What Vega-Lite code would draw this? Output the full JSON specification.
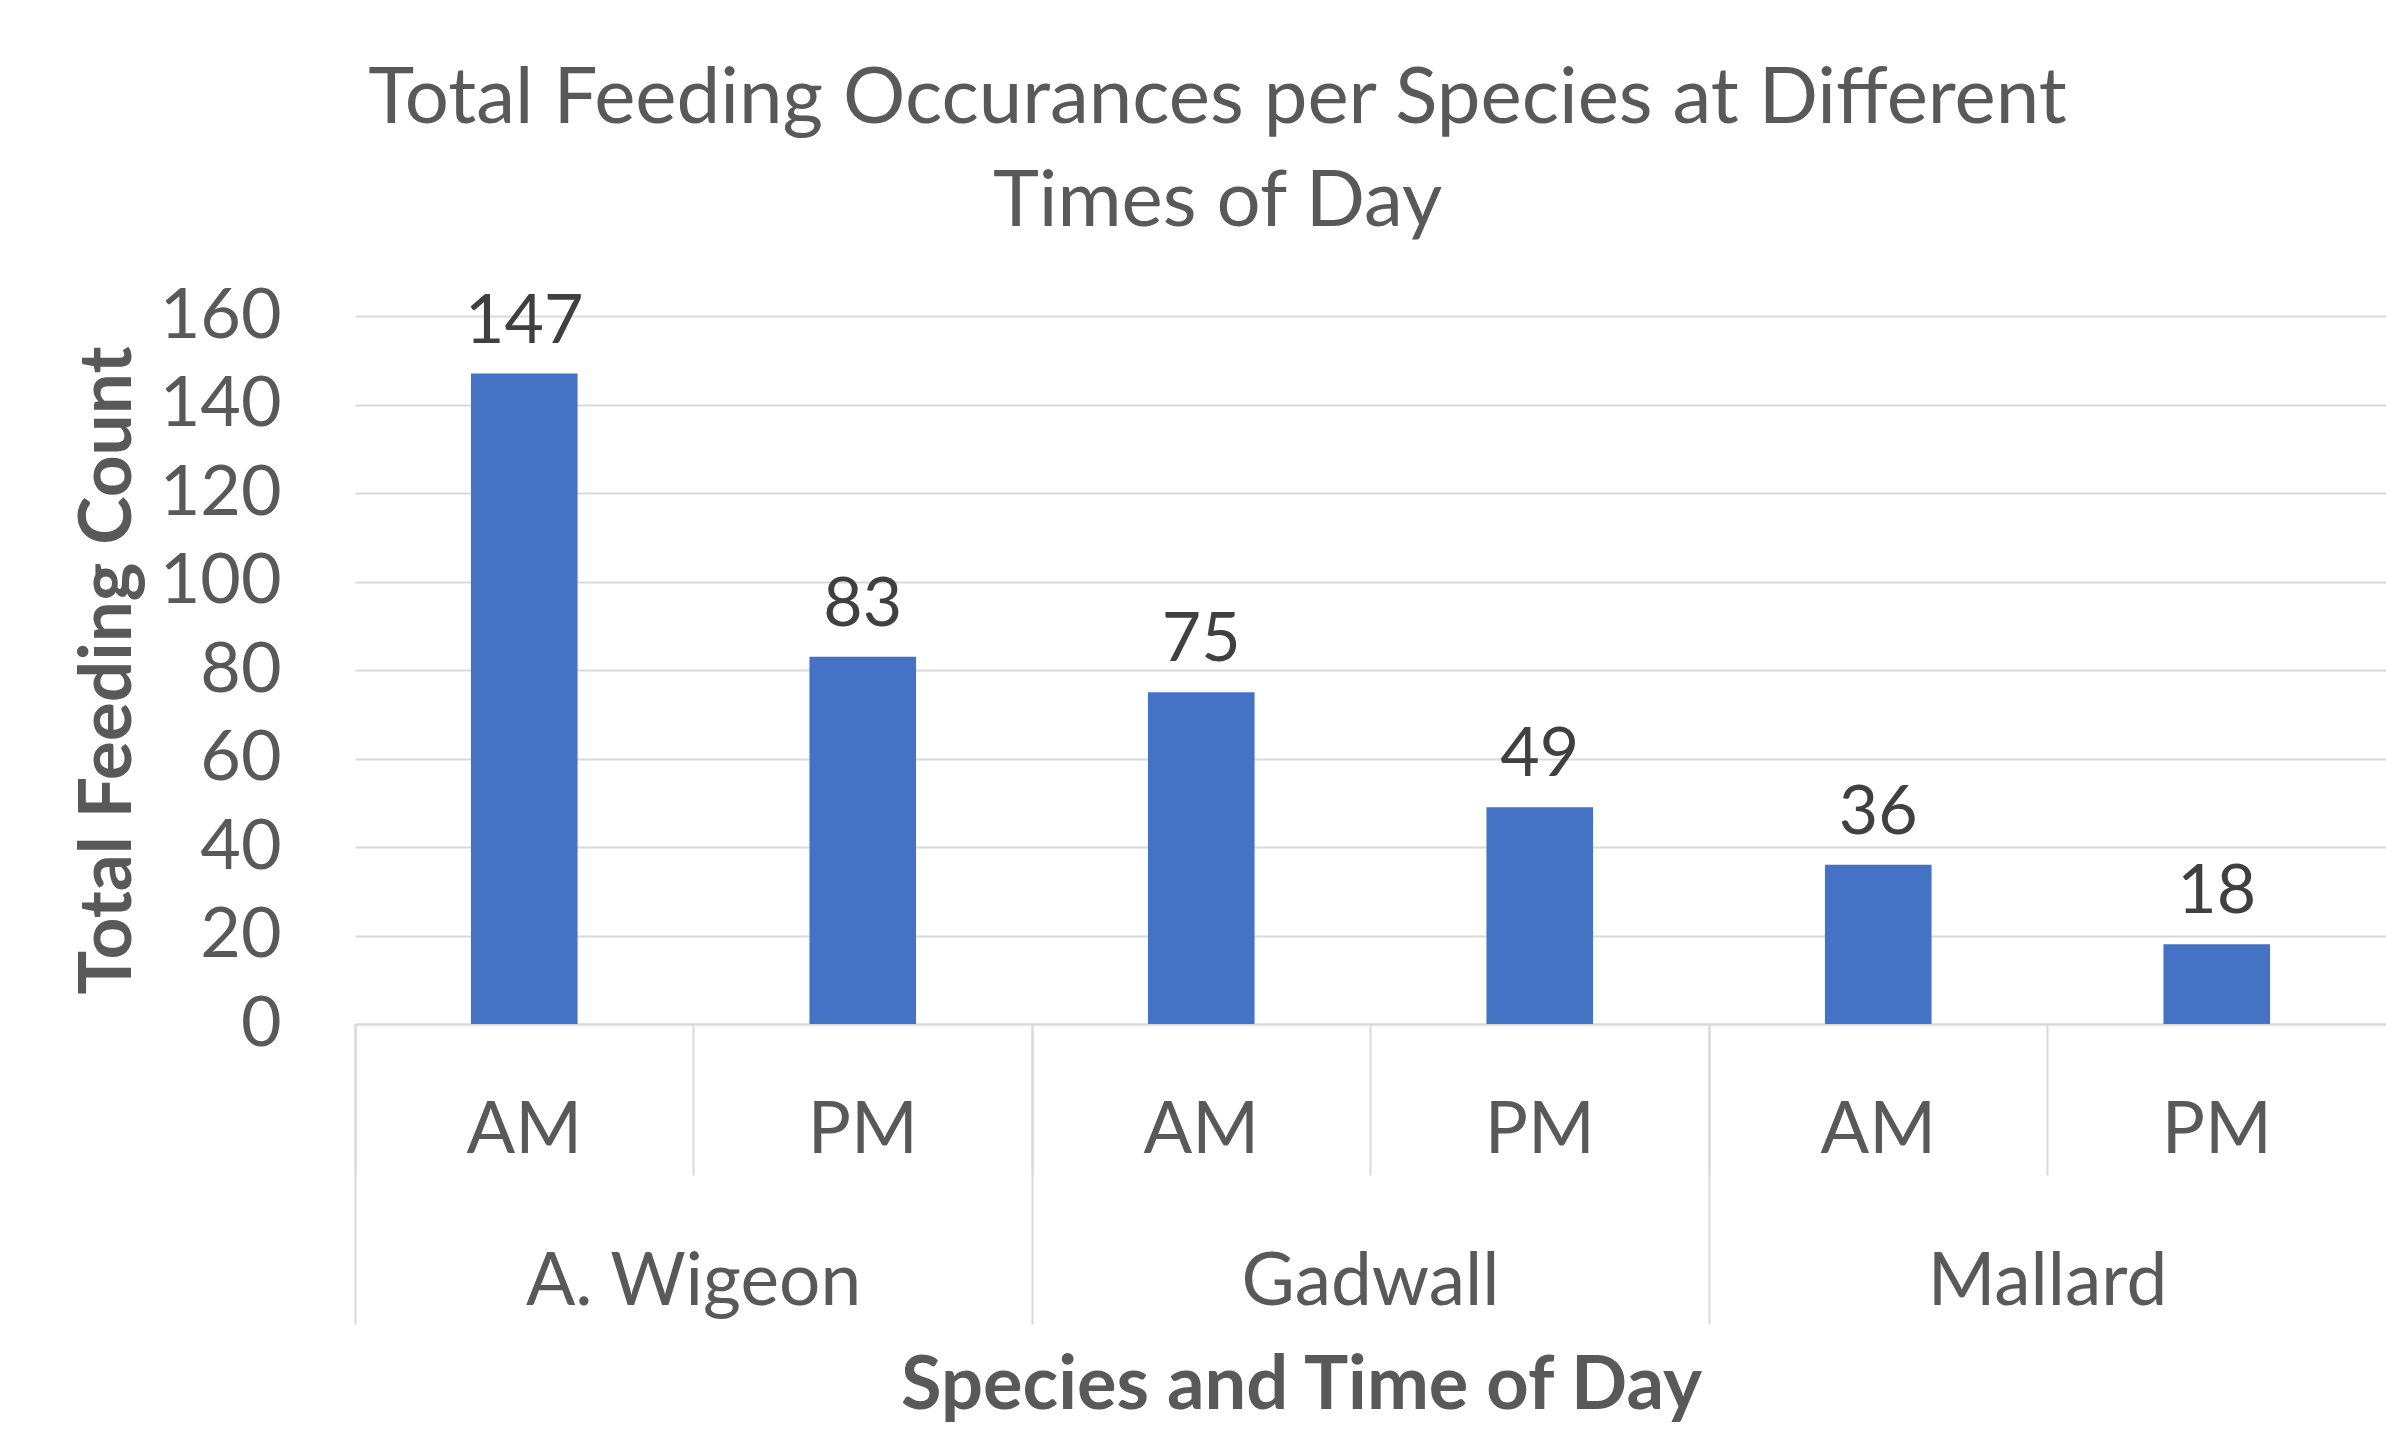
{
  "$schema": "https://vega.github.io/schema/vega-lite/v6.json",
  "autosize": {"type": "none"},
  "padding": {"left": 355, "top": 316, "right": 0, "bottom": 414},
  "width": 2031,
  "height": 708,
  "background": "white",
  "config": {
    "view": {"stroke": null},
    "font": "Lato",
    "title": {"font": "Lato", "fontSize": 78, "fontWeight": "normal", "color": "#595959", "anchor": "middle", "dx": -153, "lineHeight": 103, "offset": -236}
  },
  "title": {"text": ["Total Feeding Occurances per Species at Different", "Times of Day"]},
  "data": {
    "values": [
      {"species": "A. Wigeon", "time": "AM", "key": "A. Wigeon|AM", "count": 147},
      {"species": "A. Wigeon", "time": "PM", "key": "A. Wigeon|PM", "count": 83},
      {"species": "Gadwall", "time": "AM", "key": "Gadwall|AM", "count": 75},
      {"species": "Gadwall", "time": "PM", "key": "Gadwall|PM", "count": 49},
      {"species": "Mallard", "time": "AM", "key": "Mallard|AM", "count": 36},
      {"species": "Mallard", "time": "PM", "key": "Mallard|PM", "count": 18}
    ]
  },
  "encoding": {
    "y": {
      "field": "count", "type": "quantitative",
      "scale": {"domain": [0, 160], "nice": false},
      "axis": {
        "values": [0, 20, 40, 60, 80, 100, 120, 140, 160],
        "grid": true, "gridColor": "#d9d9d9", "gridWidth": 2,
        "domain": false, "ticks": false,
        "labelPadding": 74, "labelFontSize": 70, "labelColor": "#595959", "labelFont": "Lato",
        "title": "Total Feeding Count", "titleFont": "Lato", "titleFontSize": 73, "titleFontWeight": "bold", "titleColor": "#595959",
        "titleX": -225, "titleY": 354, "titleAngle": -90, "titleBaseline": "alphabetic", "titleAlign": "center"
      }
    }
  },
  "layer": [
    {
      "layer": [
        {
          "mark": {"type": "bar", "color": "#4472C4", "width": {"band": 0.315}},
          "encoding": {
            "x": {
              "field": "key", "type": "nominal", "sort": null,
              "scale": {"paddingInner": 0, "paddingOuter": 0},
              "axis": {
                "orient": "bottom", "title": null,
                "labelExpr": "split(datum.value, '|')[1]", "labelAngle": 0, "labelLimit": 0,
                "ticks": true, "tickSize": 151, "bandPosition": 0, "tickColor": "#d9d9d9", "tickWidth": 2,
                "domain": true, "domainColor": "#d9d9d9", "domainWidth": 2,
                "labelPadding": -23, "labelBaseline": "alphabetic", "labelFontSize": 72, "labelColor": "#595959", "labelFont": "Lato"
              }
            }
          }
        },
        {
          "mark": {"type": "text", "baseline": "alphabetic", "dy": -31, "fontSize": 68, "color": "#404040", "font": "Lato"},
          "encoding": {
            "x": {"field": "key", "type": "nominal", "sort": null},
            "text": {"field": "count", "type": "quantitative"}
          }
        }
      ]
    },
    {
      "mark": {"type": "bar", "opacity": 0},
      "encoding": {
        "x": {
          "field": "species", "type": "nominal", "sort": null,
          "scale": {"paddingInner": 0, "paddingOuter": 0},
          "axis": {
            "orient": "bottom", "labelAngle": 0, "labelLimit": 0,
            "ticks": true, "tickSize": 300, "bandPosition": 0, "tickColor": "#d9d9d9", "tickWidth": 2,
            "domain": false,
            "labelPadding": -20, "labelBaseline": "alphabetic", "labelFontSize": 73, "labelColor": "#595959", "labelFont": "Lato",
            "title": "Species and Time of Day", "titleFont": "Lato", "titleFontSize": 74, "titleFontWeight": "bold", "titleColor": "#595959",
            "titleX": 946, "titleY": 384, "titleBaseline": "alphabetic", "titleAlign": "center"
          }
        }
      }
    }
  ],
  "resolve": {"scale": {"x": "independent"}, "axis": {"x": "independent"}}
}
